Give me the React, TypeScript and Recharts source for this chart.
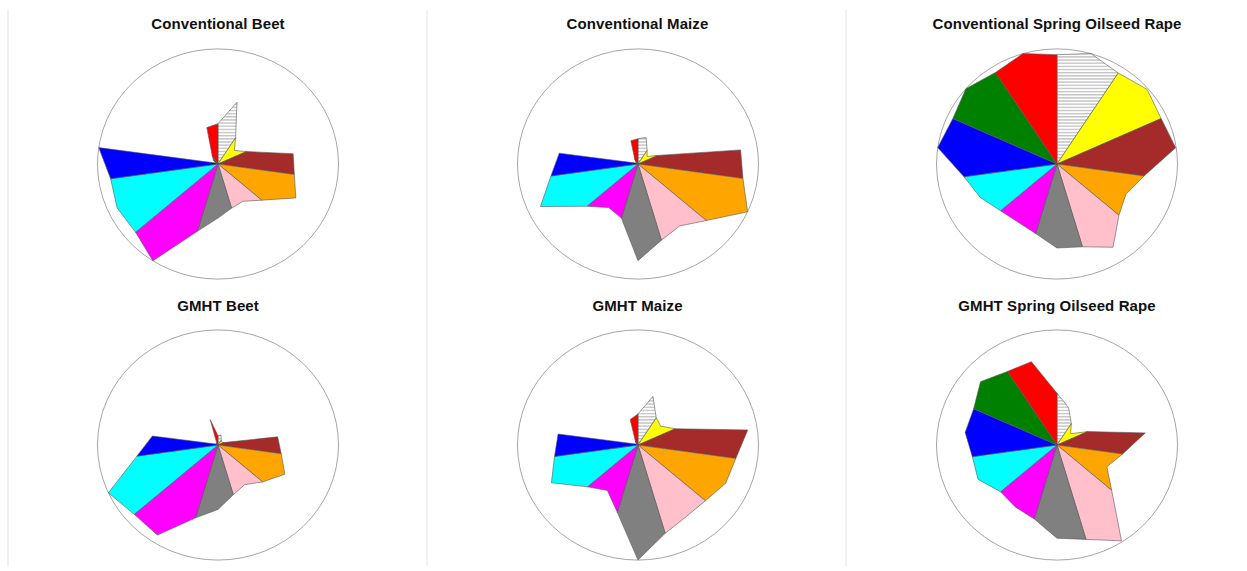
import React from 'react';
import { RadarChart, Radar, PolarGrid, PolarAngleAxis, PolarRadiusAxis } from 'recharts';

// Outline lengths on 22 spokes, clockwise from 12 o'clock:
// segment start edge, segment middle, next edge, ... (1 = reference circle)
const conventionalBeet = [0.35, 0.56, 0.27, 0.18, 0.26, 0.63, 0.64, 0.71, 0.48, 0.385, 0.4, 0.47, 0.61, 1.0, 0.905, 0.92, 0.9, 1.0, 0.02, 0.05, 0.09, 0.33];
const conventionalMaize = [0.22, 0.24, 0.14, 0.1, 0.18, 0.86, 0.88, 1.0, 0.75, 0.64, 0.69, 0.84, 0.49, 0.45, 0.56, 0.89, 0.73, 0.66, 0.02, 0.02, 0.05, 0.21];
const conventionalRape = [0.95, 1.0, 0.94, 0.99, 0.95, 0.995, 0.73, 0.63, 0.68, 0.86, 0.75, 0.73, 0.63, 0.6, 0.62, 0.7, 0.78, 1.0, 0.95, 1.0, 0.945, 1.0];
const gmhtBeet = [0.08, 0.09, 0.05, 0.04, 0.05, 0.5, 0.53, 0.61, 0.49, 0.41, 0.45, 0.56, 0.66, 0.93, 0.92, 1.0, 0.68, 0.55, 0.02, 0.02, 0.02, 0.23];
const gmhtMaize = [0.27, 0.44, 0.28, 0.25, 0.34, 0.92, 0.82, 0.8, 0.74, 0.74, 0.8, 1.0, 0.61, 0.47, 0.555, 0.79, 0.7, 0.67, 0.02, 0.02, 0.04, 0.23];
const gmhtRape = [0.45, 0.34, 0.22, 0.15, 0.28, 0.74, 0.55, 0.455, 0.6, 0.99, 0.855, 0.81, 0.67, 0.64, 0.62, 0.72, 0.71, 0.77, 0.76, 0.84, 0.76, 0.755];

const titles = [
  'Conventional Beet',
  'Conventional Maize',
  'Conventional Spring Oilseed Rape',
  'GMHT Beet',
  'GMHT Maize',
  'GMHT Spring Oilseed Rape',
];
const panelLengths = [conventionalBeet, conventionalMaize, conventionalRape, gmhtBeet, gmhtMaize, gmhtRape];

// segment fills, clockwise from 12 o'clock
const segmentFills = [
  'url(#hatch)', '#ffff00', '#a52a2a', '#ffa500', '#ffc0cb', '#808080',
  '#ff00ff', '#00ffff', '#0000ff', '#008000', '#ff0000',
];

const SPOKES = 22;
const R = 120.5;
const SIZE = 300;
const colX = [218, 637.5, 1057];
const rowY = [163.5, 445];
const titleY = [14.5, 296.5];
const dividers = [7, 426, 845];

// one row per spoke, one key per segment; a segment only keeps its own three spokes
const buildRows = (lengths: number[]) =>
  lengths.map((len, j) => {
    const row: Record<string, number | string> = { spoke: `p${j}` };
    segmentFills.forEach((_, k) => {
      const own = j === 2 * k || j === 2 * k + 1 || j === (2 * k + 2) % SPOKES;
      row[`s${k}`] = own ? len : 0;
    });
    return row;
  });

const StarPanel = ({ title, lengths, x, y, ty }: { title: string; lengths: number[]; x: number; y: number; ty: number }) => (
  <>
    <div
      style={{
        position: 'absolute',
        left: x - 200,
        top: ty,
        width: 400,
        textAlign: 'center',
        fontFamily: '"Liberation Sans", Arial, sans-serif',
        fontWeight: 'bold',
        fontSize: 15,
        letterSpacing: 0.1,
        lineHeight: '17px',
        color: '#111',
      }}
    >
      {title}
    </div>
    <div
      style={{
        position: 'absolute',
        left: x - SIZE / 2,
        top: y - SIZE / 2,
        width: SIZE,
        height: SIZE,
        transform: 'scaleY(0.955)',
      }}
    >
      <RadarChart
        width={SIZE}
        height={SIZE}
        cx={SIZE / 2}
        cy={SIZE / 2}
        outerRadius={R}
        data={buildRows(lengths)}
        margin={{ top: 0, right: 0, bottom: 0, left: 0 }}
      >
        <PolarGrid gridType="circle" radialLines={false} polarRadius={[R]} stroke="#a3a3a3" strokeWidth={1} />
        <PolarAngleAxis dataKey="spoke" tick={false} tickLine={false} axisLine={false} />
        <PolarRadiusAxis type="number" domain={[0, 1]} allowDataOverflow tick={false} axisLine={false} />
        {segmentFills.map((fill, k) => (
          <Radar
            key={k}
            dataKey={`s${k}`}
            fill={fill}
            fillOpacity={1}
            stroke="#555"
            strokeWidth={0.6}
            dot={false}
            isAnimationActive={false}
          />
        ))}
      </RadarChart>
    </div>
  </>
);

export default function App() {
  return (
    <div style={{ position: 'absolute', left: 0, top: 0, width: 1247, height: 571, background: '#fff', overflow: 'hidden' }}>
      <svg width={0} height={0} style={{ position: 'absolute' }}>
        <defs>
          <pattern id="hatch" patternUnits="userSpaceOnUse" width={6} height={3.3}>
            <rect width={6} height={3.3} fill="#fff" />
            <line x1={0} y1={1.6} x2={6} y2={1.6} stroke="#777" strokeWidth={0.7} />
          </pattern>
        </defs>
      </svg>
      {dividers.map((dx) => (
        <div key={dx} style={{ position: 'absolute', left: dx, top: 10, width: 2, height: 556, background: '#f1f1f1' }} />
      ))}
      {titles.map((t, i) => (
        <StarPanel
          key={t}
          title={t}
          lengths={panelLengths[i]}
          x={colX[i % 3]}
          y={rowY[Math.floor(i / 3)]}
          ty={titleY[Math.floor(i / 3)]}
        />
      ))}
    </div>
  );
}
